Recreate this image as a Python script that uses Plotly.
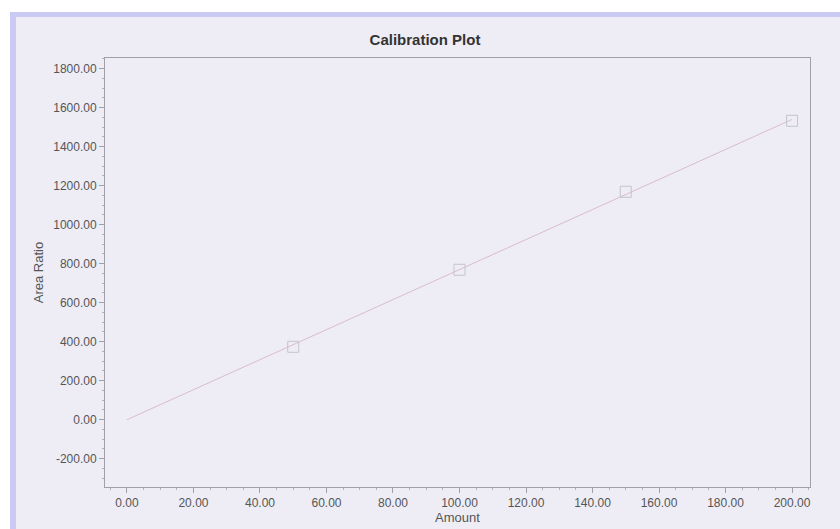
import plotly.graph_objects as go

# Calibration standards: amount vs measured area ratio
amount = [50, 100, 150, 200]
area_ratio = [374, 769, 1169, 1533]

# Fitted calibration line (through origin)
fit_x = [0, 200]
fit_y = [0, 1540]

# Axis ticks
x_ticks = [0, 20, 40, 60, 80, 100, 120, 140, 160, 180, 200]
y_ticks = [-200, 0, 200, 400, 600, 800, 1000, 1200, 1400, 1600, 1800]
x_labels = [f"{v:.2f}" for v in x_ticks]
y_labels = [f"{v:.2f}" for v in y_ticks]

W, H = 840, 529
ML, MR, MT, MB = 105, 30, 58, 42
PW, PH = W - ML - MR, H - MT - MB


def px_x(px):
    return (px - ML) / PW


def px_y(py):
    return (H - MB - py) / PH


FONT = "Liberation Sans, Arial, sans-serif"

fig = go.Figure()

fig.add_trace(go.Scatter(
    x=fit_x, y=fit_y, mode="lines",
    line=dict(color="#D8BCCC", width=1),
    hoverinfo="skip", showlegend=False,
))
fig.add_trace(go.Scatter(
    x=amount, y=area_ratio, mode="markers",
    marker=dict(symbol="square-open", size=11, color="#C4C4D2", line=dict(width=1)),
    showlegend=False,
))

tick_font = dict(family=FONT, size=12, color="#555555")
title_font = dict(family=FONT, size=13, color="#555555")

fig.update_xaxes(
    range=[-6.6, 205.4], tickvals=x_ticks, ticktext=x_labels,
    showgrid=False, zeroline=False, automargin=False,
    showline=True, linecolor="#A0A0A8", linewidth=1, mirror=True,
    ticks="outside", ticklen=5, tickcolor="#A0A0A8", tickfont=tick_font,
    minor=dict(dtick=5, tick0=0, ticks="outside", ticklen=2, tickcolor="#B0B0B8"),
    title=dict(text="Amount", font=title_font, standoff=2),
)
fig.update_yaxes(
    range=[-345, 1855], tickvals=y_ticks, ticktext=y_labels,
    showgrid=False, zeroline=False, automargin=False,
    showline=True, linecolor="#A0A0A8", linewidth=1, mirror=True,
    ticks="outside", ticklen=5, tickcolor="#A0A0A8", tickfont=tick_font,
    minor=dict(dtick=50, tick0=0, ticks="outside", ticklen=2, tickcolor="#B0B0B8"),
    title=dict(text="Area Ratio", font=title_font, standoff=6),
)

fig.update_layout(
    width=W, height=H,
    margin=dict(l=ML, r=MR, t=MT, b=MB),
    paper_bgcolor="white",
    plot_bgcolor="#F2F2F8",
    title=dict(
        text="<b>Calibration Plot</b>",
        font=dict(family=FONT, size=15, color="#333333"),
        x=px_x(425), xref="paper", xanchor="center",
        y=1 - 40 / H, yref="container", yanchor="middle",
    ),
    shapes=[
        dict(type="rect", xref="paper", yref="paper", layer="below",
             x0=px_x(10), x1=px_x(W + 20), y0=px_y(H + 20), y1=px_y(12),
             fillcolor="#CACAF4", line=dict(width=0)),
        dict(type="rect", xref="paper", yref="paper", layer="below",
             x0=px_x(16), x1=px_x(W + 20), y0=px_y(H + 20), y1=px_y(17),
             fillcolor="#EEEDF5", line=dict(width=0)),
    ],
)

fig.write_html("out.html")
